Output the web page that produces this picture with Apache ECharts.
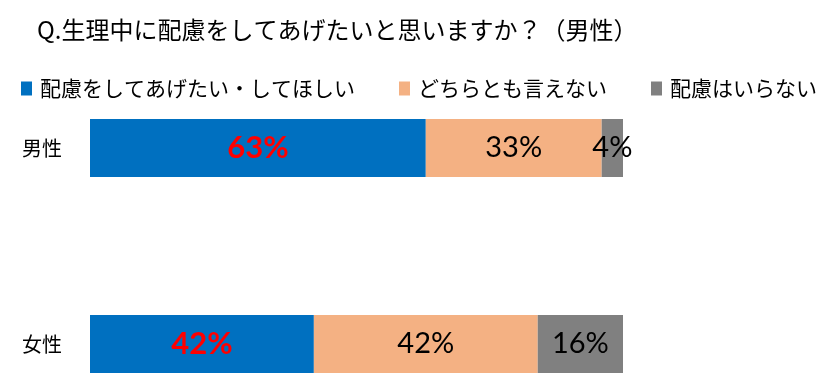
<!DOCTYPE html>
<html><head><meta charset="utf-8">
<script src="https://cdn.jsdelivr.net/npm/echarts@6/dist/echarts.min.js"></script>
<style>html,body{margin:0;padding:0;background:#fff}#c{width:840px;height:391px}</style>
</head><body><div id="c"></div>
<script>
const categories = ['男性', '女性'];
const seriesNames = ['配慮をしてあげたい・してほしい', 'どちらとも言えない', '配慮はいらない'];
const careValues = [63, 42];
const neutralValues = [33, 42];
const noneValues = [4, 16];
const titleText = 'Q.生理中に配慮をしてあげたいと思いますか？（男性）';

const JP = '"Noto Sans CJK JP", sans-serif';
const NUM = 'Lato, "Open Sans", sans-serif';
const colors = ['#0070C0', '#F4B183', '#808080'];

function mk(name, data, color, labelStyle) {
  return {
    name, type: 'bar', stack: 'all', data, barWidth: 58,
    itemStyle: { color },
    label: Object.assign({ show: true, position: 'inside', formatter: '{c}%', fontSize: 29, fontFamily: NUM }, labelStyle)
  };
}

const chart = echarts.init(document.getElementById('c'));
chart.setOption({
  animation: false,
  title: { text: titleText, left: 32, top: 13, textStyle: { fontFamily: JP, fontSize: 24, fontWeight: 'normal', color: '#000' } },
  legend: {
    left: 16, top: 73, itemWidth: 11, itemHeight: 14, itemGap: 44, icon: 'rect',
    textStyle: { fontFamily: JP, fontSize: 21, color: '#000', padding: [0, 0, 0, 3] },
    data: seriesNames
  },
  grid: { left: 90, width: 533, top: 50, height: 392, outerBoundsMode: 'none', containLabel: false },
  xAxis: { type: 'value', min: 0, max: 100, show: false },
  yAxis: {
    type: 'category', data: categories, inverse: true,
    axisLine: { show: false }, axisTick: { show: false },
    axisLabel: { margin: 28, fontFamily: JP, fontSize: 20, color: '#000' }
  },
  series: [
    mk(seriesNames[0], careValues, colors[0], { color: '#FF0000', fontWeight: 'bold', fontSize: 31 }),
    mk(seriesNames[1], neutralValues, colors[1], { color: '#000' }),
    mk(seriesNames[2], noneValues, colors[2], { color: '#000' })
  ]
});
</script></body></html>
